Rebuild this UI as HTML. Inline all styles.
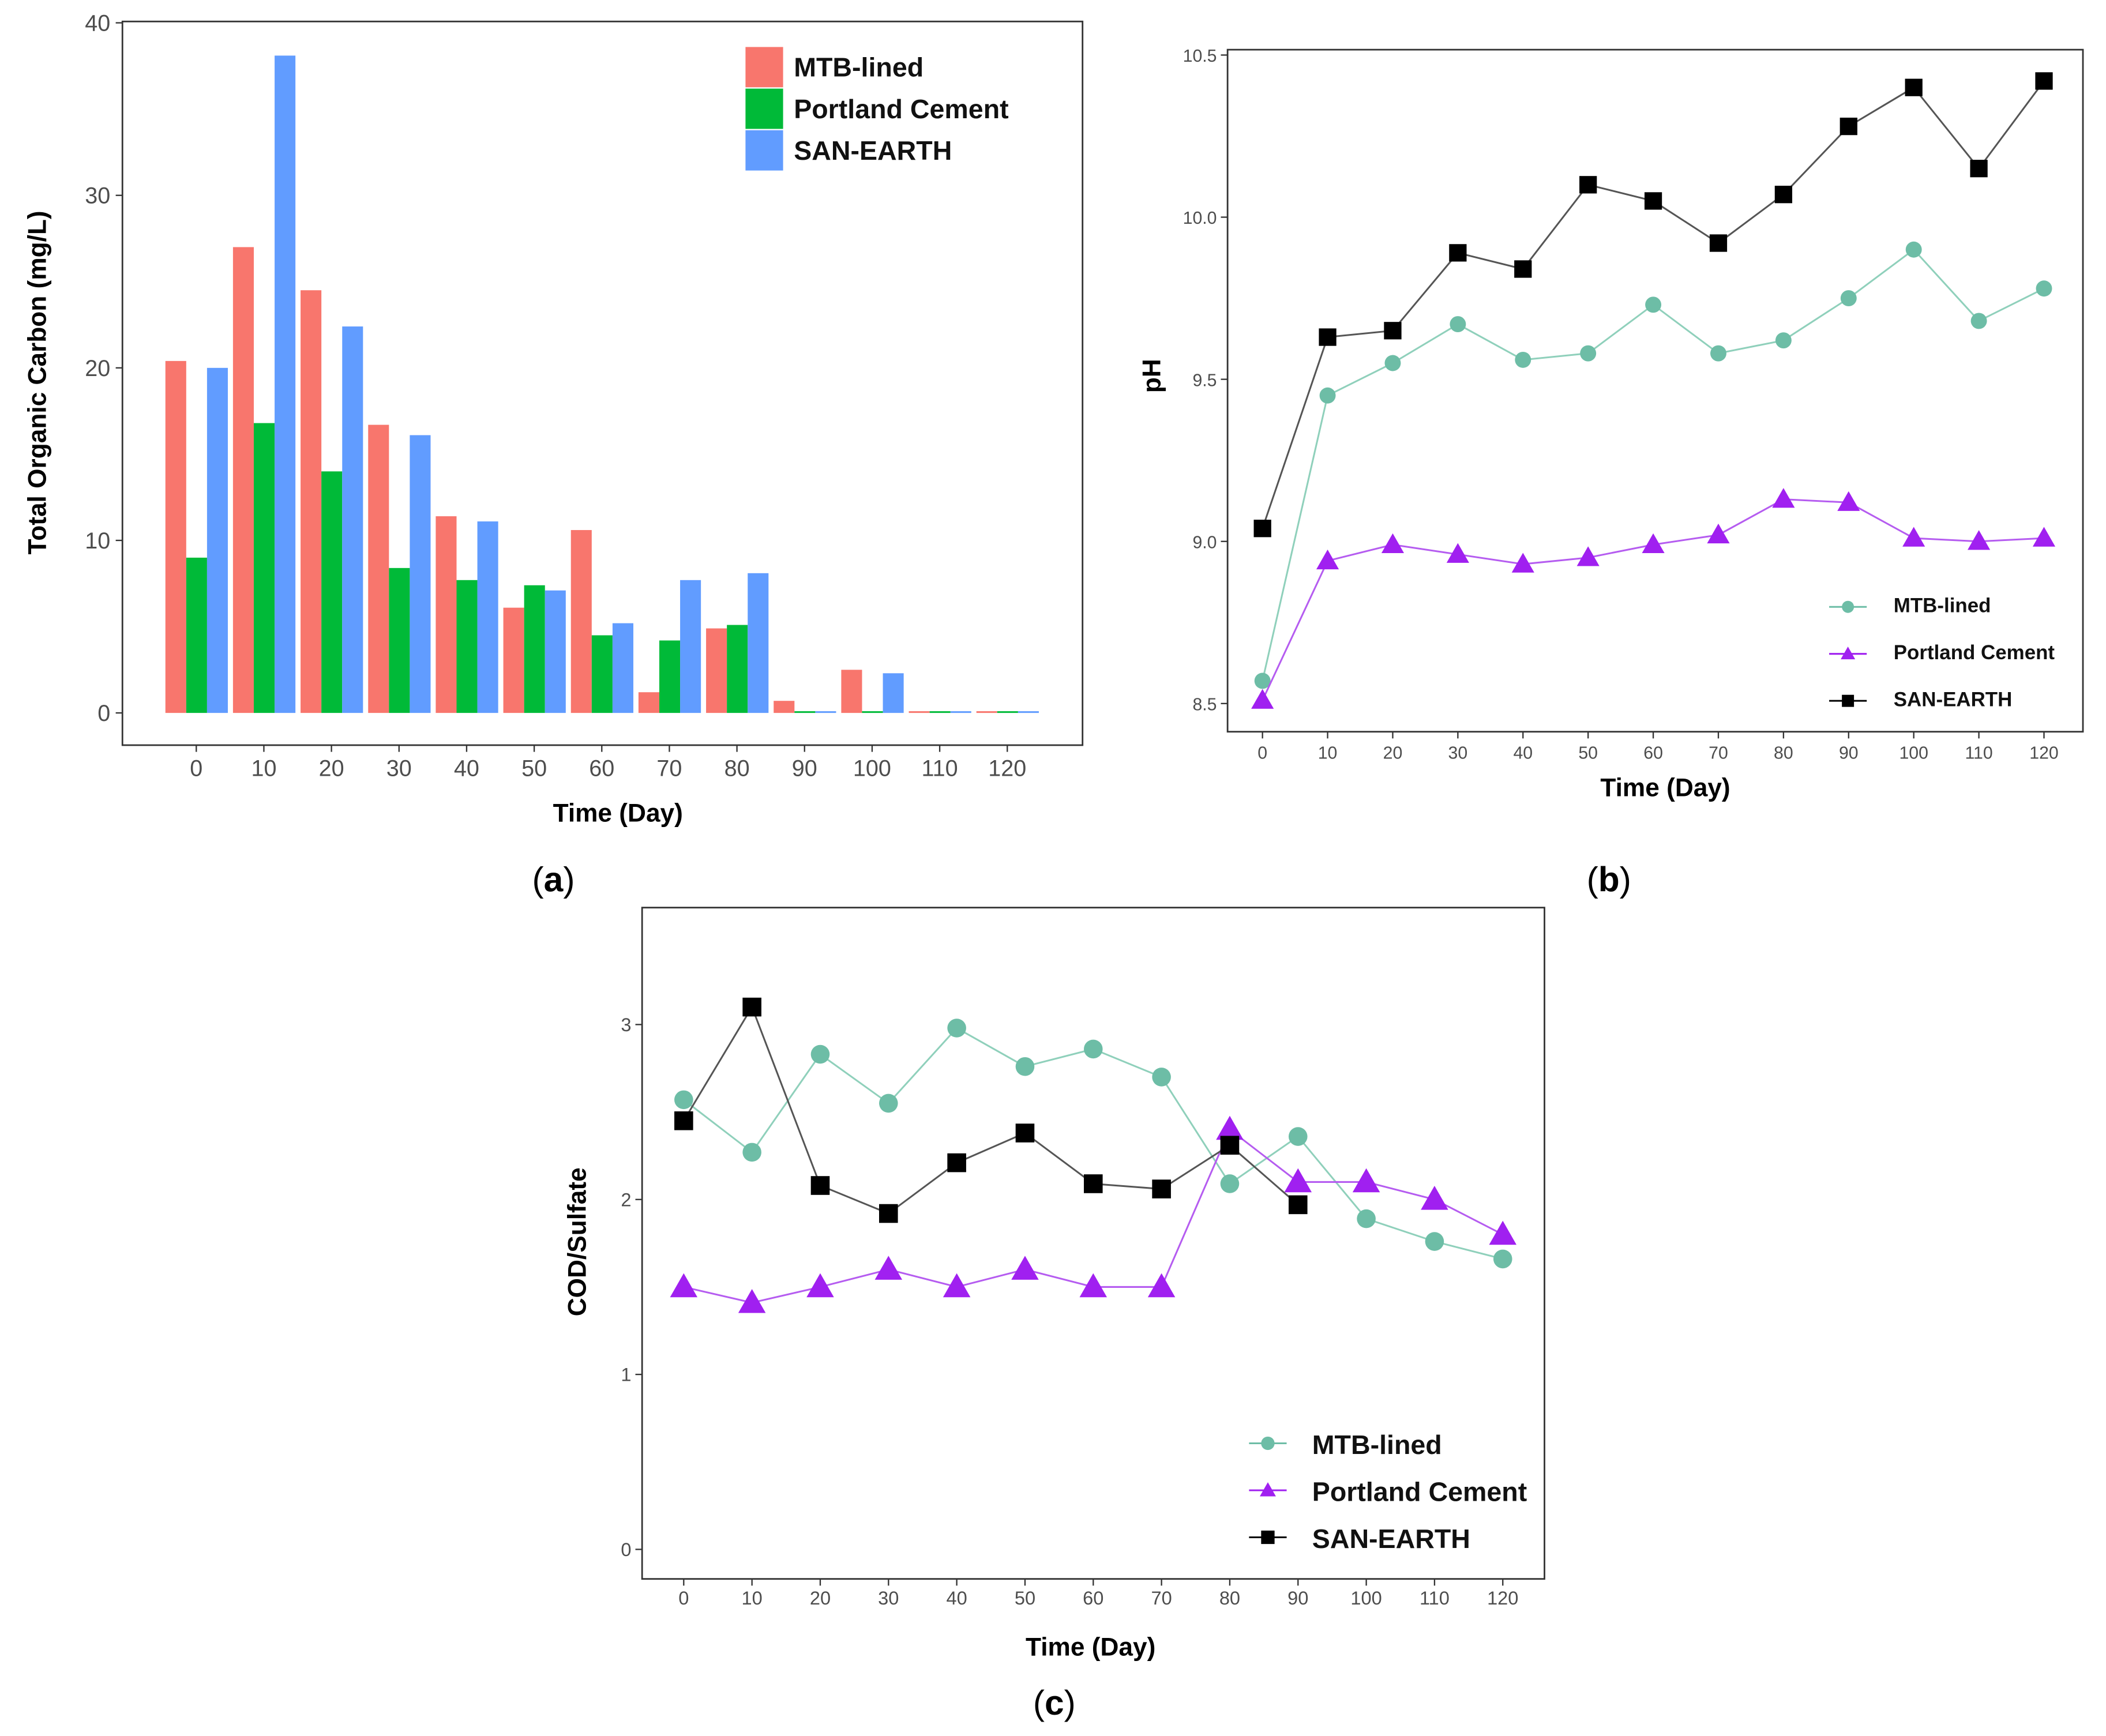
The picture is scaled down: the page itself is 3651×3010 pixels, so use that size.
<!DOCTYPE html>
<html><head><meta charset="utf-8">
<style>
html,body{margin:0;padding:0;background:#fff;}
svg{display:block;width:3651px;height:3010px;}
text{font-family:"Liberation Sans",Arial,sans-serif;}
</style></head>
<body>
<svg id="fig" viewBox="0 0 1568 1293" xmlns="http://www.w3.org/2000/svg"></svg>
<script>
// ---------- DATA ----------
const days = [0,10,20,30,40,50,60,70,80,90,100,110,120];
const tocMTB = [20.4,27,24.5,16.7,11.4,6.1,10.6,1.2,4.9,0.7,2.5,0.1,0.1];
const tocPC  = [9,16.8,14,8.4,7.7,7.4,4.5,4.2,5.1,0.1,0.1,0.1,0.1];
const tocSAN = [20,38.1,22.4,16.1,11.1,7.1,5.2,7.7,8.1,0.1,2.3,0.1,0.1];
const tocTicks = [0,10,20,30,40];
const phMTB = [8.57,9.45,9.55,9.67,9.56,9.58,9.73,9.58,9.62,9.75,9.90,9.68,9.78];
const phPC  = [8.51,8.94,8.99,8.96,8.93,8.95,8.99,9.02,9.13,9.12,9.01,9.00,9.01];
const phSAN = [9.04,9.63,9.65,9.89,9.84,10.10,10.05,9.92,10.07,10.28,10.40,10.15,10.42];
const phTicks = [8.5,9.0,9.5,10.0,10.5];
const codMTB = [2.57,2.27,2.83,2.55,2.98,2.76,2.86,2.70,2.09,2.36,1.89,1.76,1.66];
const codPC  = [1.50,1.41,1.50,1.60,1.50,1.60,1.50,1.50,2.40,2.10,2.10,2.00,1.80];
const codSAN = [2.45,3.10,2.08,1.92,2.21,2.38,2.09,2.06,2.31,1.97];
const codTicks = [0,1,2,3];

const NS="http://www.w3.org/2000/svg";
const svg=document.getElementById('fig');
function mk(tag,attrs,parent,txt){const e=document.createElementNS(NS,tag);for(const k in attrs)e.setAttribute(k,attrs[k]);if(txt!==undefined)e.textContent=txt;(parent||svg).appendChild(e);return e;}
const RED='#F8766D',GRN='#00BA38',BLU='#619CFF',TEAL='#6DBDA6',PUR='#A020F0';

// ---------- PANEL A ----------
const gA=mk('g',{});


const xa=d=>146+d/10*50.33, ya=v=>531-v*12.85;
const fa=mk('rect',{x:91,y:16,width:715,height:539,fill:'none',stroke:'#333','stroke-width':1.2},gA);

tocTicks.forEach(t=>{mk('line',{x1:86,x2:91,y1:ya(t),y2:ya(t),stroke:'#333'},gA);
 const l=mk('text',{x:82,y:ya(t)+6,'text-anchor':'end','font-size':17,fill:'#4d4d4d'},gA,t);
 });
days.forEach(d=>{mk('line',{x1:xa(d),x2:xa(d),y1:555,y2:560,stroke:'#333'},gA);
 const l=mk('text',{x:xa(d),y:578,'text-anchor':'middle','font-size':17,fill:'#4d4d4d'},gA,d);
 });
[[tocMTB,RED,-23],[tocPC,GRN,-7.5],[tocSAN,BLU,8]].forEach(([arr,c,off])=>{
 arr.forEach((v,i)=>{const b=mk('rect',{x:xa(days[i])+off,y:ya(v),width:15.5,height:ya(0)-ya(v),fill:c},gA);
  });});
[['MTB-lined',RED,35],['Portland Cement',GRN,66],['SAN-EARTH',BLU,97]].forEach(([n,c,y])=>{
 const r=mk('rect',{x:555,y:y,width:28,height:30,fill:c},gA);
 
 const t=mk('text',{x:591,y:y+22,'font-size':20,'font-weight':'bold',fill:'#111'},gA,n);
 });
let t=mk('text',{x:460,y:612,'text-anchor':'middle','font-size':19,'font-weight':'bold'},gA,'Time (Day)');

t=mk('text',{x:0,y:0,transform:'translate(34,285) rotate(-90)','text-anchor':'middle','font-size':19,'font-weight':'bold'},gA,'Total Organic Carbon (mg/L)');


// ---------- marker helper ----------
function marker(g,shape,x,y,c,s){
 let e;
 if(shape==='c') e=mk('circle',{cx:x,cy:y,r:s/2,fill:c},g);
 else if(shape==='s') e=mk('rect',{x:x-s/2,y:y-s/2,width:s,height:s,fill:c},g);
 else e=mk('polygon',{points:`${x},${y-s*0.6} ${x-s*0.6},${y+s*0.45} ${x+s*0.6},${y+s*0.45}`,fill:c},g);
 
}
function series(g,arr,xf,yf,c,lc,shape,s,name){
 const pts=arr.map((v,i)=>xf(days[i])+','+yf(v)).join(' ');
 const l=mk('polyline',{points:pts,fill:'none',stroke:lc,'stroke-width':1.3},g);
 
 arr.forEach((v,i)=>marker(g,shape,xf(days[i]),yf(v),c,s));
}

// ---------- PANEL B ----------
const gB=mk('g',{});


const xb=d=>940+d/10*48.5, yb=v=>524-(v-8.5)*241.5;
const fb=mk('rect',{x:914,y:37,width:637,height:508,fill:'none',stroke:'#333','stroke-width':1.2},gB);

phTicks.forEach(v=>{mk('line',{x1:909,x2:914,y1:yb(v),y2:yb(v),stroke:'#333'},gB);
 const l=mk('text',{x:906,y:yb(v)+5,'text-anchor':'end','font-size':13,fill:'#4d4d4d'},gB,v.toFixed(1));
 });
days.forEach(d=>{mk('line',{x1:xb(d),x2:xb(d),y1:545,y2:550,stroke:'#333'},gB);
 const l=mk('text',{x:xb(d),y:565,'text-anchor':'middle','font-size':13,fill:'#4d4d4d'},gB,d);
 });
series(gB,phMTB,xb,yb,TEAL,'#8fd0bb','c',12,'series-mtb-lined');
series(gB,phPC,xb,yb,PUR,'#b55cf0','t',14,'series-portland-cement');
series(gB,phSAN,xb,yb,'#000','#555','s',13,'series-san-earth');
[['MTB-lined',TEAL,'c',451],['Portland Cement',PUR,'t',486],['SAN-EARTH','#000','s',521]].forEach(([n,c,sh,y])=>{
 mk('line',{x1:1362,x2:1390,y1:y+1,y2:y+1,stroke:c,'stroke-width':1.3},gB);
 marker(gB,sh,1376,y+1,c,9);
 const tt=mk('text',{x:1410,y:y+5,'font-size':15,'font-weight':'bold',fill:'#111'},gB,n);
 });
t=mk('text',{x:1240,y:593,'text-anchor':'middle','font-size':19,'font-weight':'bold'},gB,'Time (Day)');

t=mk('text',{x:0,y:0,transform:'translate(864,280) rotate(-90)','text-anchor':'middle','font-size':19,'font-weight':'bold'},gB,'pH');


// ---------- PANEL C ----------
const gC=mk('g',{});


const xc=d=>509+d/10*50.83, yc=v=>1154-v*130.3;
const fc=mk('rect',{x:478,y:676,width:672,height:500,fill:'none',stroke:'#333','stroke-width':1.2},gC);

codTicks.forEach(v=>{mk('line',{x1:473,x2:478,y1:yc(v),y2:yc(v),stroke:'#333'},gC);
 const l=mk('text',{x:470,y:yc(v)+5,'text-anchor':'end','font-size':14,fill:'#4d4d4d'},gC,v);
 });
days.forEach(d=>{mk('line',{x1:xc(d),x2:xc(d),y1:1176,y2:1181,stroke:'#333'},gC);
 const l=mk('text',{x:xc(d),y:1195,'text-anchor':'middle','font-size':14,fill:'#4d4d4d'},gC,d);
 });
series(gC,codMTB,xc,yc,TEAL,'#8fd0bb','c',14,'series-mtb-lined');
series(gC,codPC,xc,yc,PUR,'#b55cf0','t',17,'series-portland-cement');
series(gC,codSAN,xc,yc,'#000','#555','s',14,'series-san-earth');
[['MTB-lined',TEAL,'c',1076],['Portland Cement',PUR,'t',1111],['SAN-EARTH','#000','s',1146]].forEach(([n,c,sh,y])=>{
 mk('line',{x1:930,x2:958,y1:y-1,y2:y-1,stroke:c,'stroke-width':1.3},gC);
 marker(gC,sh,944,y-1,c,10);
 const tt=mk('text',{x:977,y:y+7,'font-size':20,'font-weight':'bold',fill:'#111'},gC,n);
 });
t=mk('text',{x:812,y:1233,'text-anchor':'middle','font-size':19,'font-weight':'bold'},gC,'Time (Day)');

t=mk('text',{x:0,y:0,transform:'translate(436,925) rotate(-90)','text-anchor':'middle','font-size':19,'font-weight':'bold'},gC,'COD/Sulfate');


// ---------- captions ----------
[['a',412,664],['b',1198,664],['c',785,1277]].forEach(([s,x,y])=>{
 const c=mk('text',{x:x,y:y,'text-anchor':'middle','font-size':26,'font-family':'"Liberation Serif",serif'},svg);
 mk('tspan',{},c,'(');mk('tspan',{'font-weight':'bold'},c,s);mk('tspan',{},c,')');
 });
</script>
</body></html>
